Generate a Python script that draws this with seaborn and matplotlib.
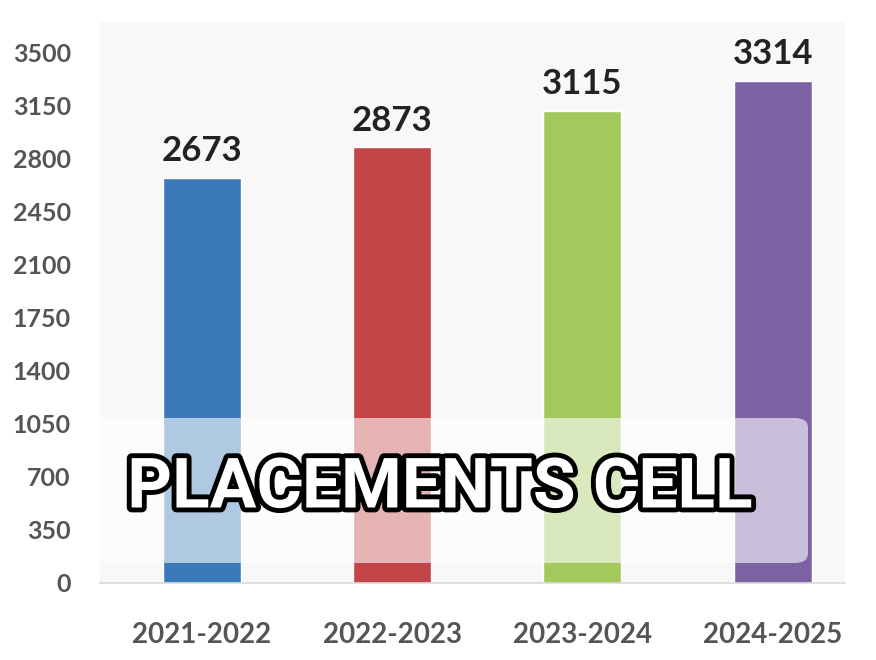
import matplotlib
matplotlib.use("Agg")
import matplotlib.pyplot as plt
import matplotlib.patheffects as pe
from matplotlib.patches import FancyBboxPatch
import seaborn as sns
import pandas as pd

# chart data
years = ["2021-2022", "2022-2023", "2023-2024", "2024-2025"]
placements = [2673, 2873, 3115, 3314]
bar_colors = ["#3b79b8", "#c24446", "#a3c95d", "#7d62a3"]
y_ticks = [0, 350, 700, 1050, 1400, 1750, 2100, 2450, 2800, 3150, 3500]

df = pd.DataFrame({"year": years, "count": placements})

sns.set_theme(style="white")
plt.rcParams["font.family"] = ["Lato", "DejaVu Sans"]

fig = plt.figure(figsize=(8.76, 6.6), dpi=100)
ax = fig.add_axes([100 / 876, 77 / 660, 745 / 876, 561 / 660])
ax.set_facecolor("#f8f8f8")

sns.barplot(data=df, x="year", y="count", hue="year", palette=bar_colors,
            width=0.41, legend=False, saturation=1, ax=ax)

ax.set_ylim(0, 3700)
ax.set_xlim(-0.536, 3.38)
ax.set_yticks(y_ticks)
ax.set_yticklabels([str(t) for t in y_ticks])
ax.set_xlabel("")
ax.set_ylabel("")
for s in ["top", "right", "left"]:
    ax.spines[s].set_visible(False)
ax.spines["bottom"].set_color("#d9d9d9")
ax.spines["bottom"].set_linewidth(1.2)
ax.tick_params(axis="y", length=0, pad=21, labelsize=18, labelcolor="#555555")
ax.tick_params(axis="x", length=0, pad=28, labelsize=20, labelcolor="#555555")
for lab in ax.get_xticklabels() + ax.get_yticklabels():
    lab.set_fontweight("bold")

# value labels above bars
for i, v in enumerate(placements):
    ax.text(i, v + 70, str(v), ha="center", va="bottom", fontsize=25,
            fontweight="bold", color="#222222")

# translucent banner with outlined title
box = FancyBboxPatch((95 / 876, 97 / 660), 713 / 876, 145 / 660,
                     boxstyle="round,pad=0,rounding_size=0.015",
                     transform=fig.transFigure, facecolor="white",
                     edgecolor="none", alpha=0.6, zorder=5)
fig.patches.append(box)

fig.text(440 / 876, 171 / 660, "PLACEMENTS CELL", ha="center", va="center",
         fontsize=50, fontweight="bold", color="white",
         family=["Roboto", "DejaVu Sans"], zorder=6,
         path_effects=[pe.withStroke(linewidth=7, foreground="black")])

fig.savefig("out.png", dpi=100)
